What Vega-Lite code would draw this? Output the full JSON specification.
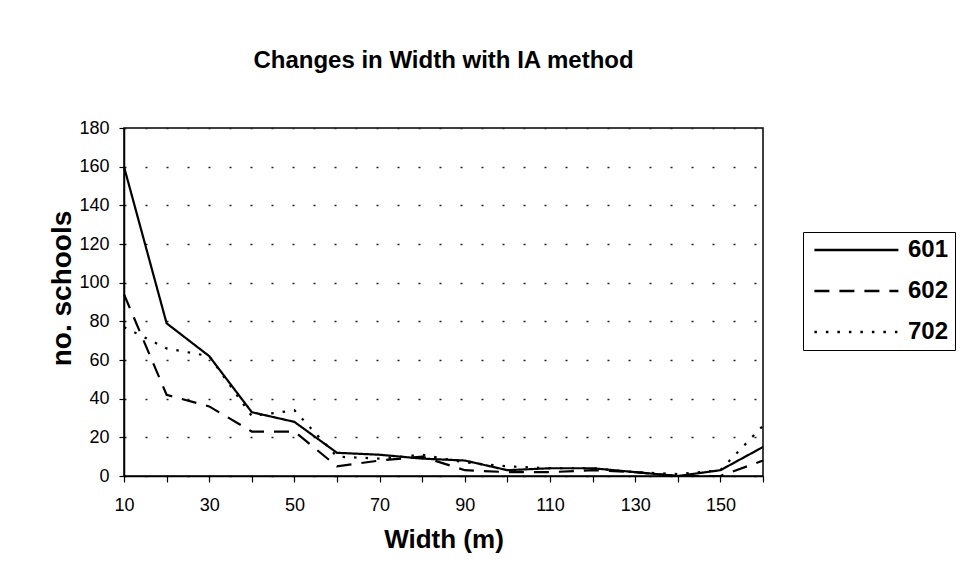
{
  "$schema": "https://vega.github.io/schema/vega-lite/v6.json",
  "autosize": {"type": "none"},
  "padding": {"left": 124, "top": 128, "right": 197, "bottom": 101},
  "width": 639,
  "height": 348,
  "background": "white",
  "title": {
    "text": "Changes in Width with IA method",
    "font": "Liberation Sans",
    "fontSize": 24,
    "fontWeight": "bold",
    "color": "black",
    "anchor": "middle",
    "offset": 46
  },
  "data": {
    "values": [
      {"w": 10, "series": "601", "n": 160}, {"w": 20, "series": "601", "n": 79}, {"w": 30, "series": "601", "n": 62}, {"w": 40, "series": "601", "n": 33},
      {"w": 50, "series": "601", "n": 28}, {"w": 60, "series": "601", "n": 12}, {"w": 70, "series": "601", "n": 11}, {"w": 80, "series": "601", "n": 9},
      {"w": 90, "series": "601", "n": 8}, {"w": 100, "series": "601", "n": 3}, {"w": 110, "series": "601", "n": 4}, {"w": 120, "series": "601", "n": 4},
      {"w": 130, "series": "601", "n": 2}, {"w": 140, "series": "601", "n": 0}, {"w": 150, "series": "601", "n": 3}, {"w": 160, "series": "601", "n": 15},
      {"w": 10, "series": "602", "n": 94}, {"w": 20, "series": "602", "n": 42}, {"w": 30, "series": "602", "n": 36}, {"w": 40, "series": "602", "n": 23},
      {"w": 50, "series": "602", "n": 23}, {"w": 60, "series": "602", "n": 5}, {"w": 70, "series": "602", "n": 8}, {"w": 80, "series": "602", "n": 10},
      {"w": 90, "series": "602", "n": 3}, {"w": 100, "series": "602", "n": 2}, {"w": 110, "series": "602", "n": 2}, {"w": 120, "series": "602", "n": 3},
      {"w": 130, "series": "602", "n": 2}, {"w": 140, "series": "602", "n": 0}, {"w": 150, "series": "602", "n": 0}, {"w": 160, "series": "602", "n": 8},
      {"w": 10, "series": "702", "n": 77}, {"w": 20, "series": "702", "n": 66}, {"w": 30, "series": "702", "n": 62}, {"w": 40, "series": "702", "n": 31},
      {"w": 50, "series": "702", "n": 34}, {"w": 60, "series": "702", "n": 10}, {"w": 70, "series": "702", "n": 9}, {"w": 80, "series": "702", "n": 11},
      {"w": 90, "series": "702", "n": 7}, {"w": 100, "series": "702", "n": 5}, {"w": 110, "series": "702", "n": 4}, {"w": 120, "series": "702", "n": 4},
      {"w": 130, "series": "702", "n": 2}, {"w": 140, "series": "702", "n": 1}, {"w": 150, "series": "702", "n": 3}, {"w": 160, "series": "702", "n": 26}
    ]
  },
  "mark": {"type": "line", "color": "black", "strokeWidth": 2.2, "strokeCap": "butt", "strokeJoin": "miter"},
  "encoding": {
    "x": {
      "field": "w",
      "type": "quantitative",
      "scale": {"domain": [10, 160], "nice": false, "zero": false},
      "axis": {
        "title": "Width (m)",
        "values": [10, 20, 30, 40, 50, 60, 70, 80, 90, 100, 110, 120, 130, 140, 150, 160],
        "labelExpr": "(datum.value % 20 == 10 && datum.value < 160) ? datum.label : ''",
        "grid": false,
        "tickSize": 6,
        "labelPadding": 14,
        "titlePadding": 12,
        "labelFlush": false,
        "labelOverlap": false
      }
    },
    "y": {
      "field": "n",
      "type": "quantitative",
      "scale": {"domain": [0, 180], "nice": false},
      "axis": {
        "title": "no. schools",
        "values": [0, 20, 40, 60, 80, 100, 120, 140, 160, 180],
        "grid": true,
        "gridDash": [2, 19],
        "gridColor": "#222",
        "gridWidth": 1.3,
        "tickSize": 5,
        "labelPadding": 10,
        "titlePadding": 2,
        "titleFontSize": 28,
        "titleY": 160
      }
    },
    "strokeDash": {
      "field": "series",
      "type": "nominal",
      "scale": {"domain": ["601", "602", "702"], "range": [[1, 0], [15, 10], [2.5, 9]]},
      "legend": {
        "title": null,
        "orient": "none",
        "legendX": 679,
        "legendY": 104,
        "symbolType": "M-0.66,0H7.74",
        "symbolSize": 400,
        "symbolStrokeWidth": 2.4,
        "symbolStrokeColor": "black",
        "symbolFillColor": "transparent",
        "labelFont": "Liberation Sans",
        "labelFontSize": 24,
        "labelFontWeight": "bold",
        "labelColor": "black",
        "labelOffset": 75,
        "rowPadding": 17,
        "padding": 6,
        "strokeColor": "black"
      }
    }
  },
  "config": {
    "view": {"stroke": "black", "strokeWidth": 1.5},
    "axis": {
      "domainColor": "black",
      "domainWidth": 1.5,
      "tickColor": "black",
      "tickWidth": 1.2,
      "labelFont": "Liberation Sans",
      "labelFontSize": 18,
      "labelColor": "black",
      "titleFont": "Liberation Sans",
      "titleFontSize": 26,
      "titleFontWeight": "bold",
      "titleColor": "black"
    }
  }
}
